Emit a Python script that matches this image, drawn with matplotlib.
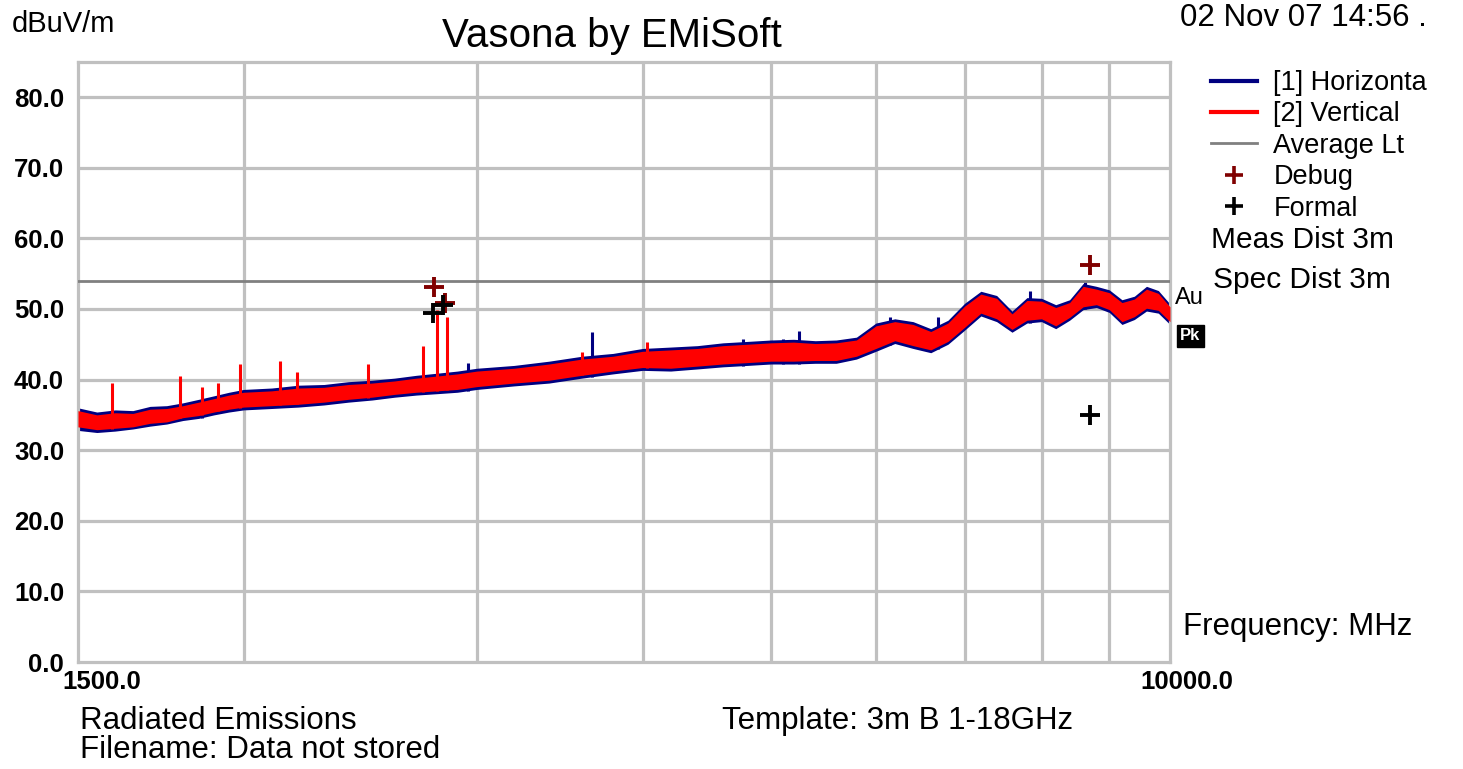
import numpy as np
import matplotlib.pyplot as plt
from matplotlib.lines import Line2D

plt.rcParams['font.family'] = ['Liberation Sans', 'DejaVu Sans']

# frequency grid (MHz) and trace envelopes (dBuV/m)
freq = [1500, 1550, 1600, 1650, 1700, 1750, 1800, 1850, 1900, 1950,
        2000, 2100, 2200, 2300, 2400, 2500, 2600, 2700, 2800, 2900,
        3000, 3200, 3400, 3600, 3800, 4000, 4200, 4400, 4600, 4800,
        5000, 5200, 5400, 5600, 5800, 6000, 6200, 6400, 6600, 6800,
        7000, 7200, 7400, 7600, 7800, 8000, 8200, 8400, 8600, 8800,
        9000, 9200, 9400, 9600, 9800, 10000]

vert_lo = [33.3, 32.9, 33.1, 33.3, 33.8, 34.0, 34.6, 34.9, 35.4, 35.8,
           36.1, 36.3, 36.5, 36.8, 37.2, 37.5, 37.9, 38.2, 38.4, 38.6,
           39.0, 39.5, 39.9, 40.6, 41.2, 41.7, 41.6, 41.9, 42.2, 42.4,
           42.6, 42.6, 42.7, 42.7, 43.3, 44.4, 45.5, 44.8, 44.2, 45.4,
           47.4, 49.4, 48.6, 47.1, 48.4, 48.6, 47.6, 48.8, 50.3, 50.6,
           49.9, 48.2, 48.9, 50.1, 49.8, 48.2]
vert_hi = [35.6, 35.0, 35.3, 35.2, 35.8, 35.9, 36.3, 36.8, 37.3, 37.8,
           38.2, 38.4, 38.8, 38.9, 39.3, 39.5, 39.8, 40.2, 40.5, 40.8,
           41.2, 41.6, 42.2, 42.9, 43.3, 44.0, 44.2, 44.4, 44.8, 45.0,
           45.2, 45.3, 45.1, 45.2, 45.6, 47.6, 48.2, 47.8, 46.8, 48.0,
           50.4, 52.1, 51.5, 49.3, 51.2, 51.1, 50.2, 50.9, 53.2, 52.8,
           52.3, 50.9, 51.4, 52.8, 52.2, 50.3]

horiz_lo = [32.8, 32.5, 32.7, 33.0, 33.4, 33.7, 34.2, 34.5, 35.0, 35.4,
            35.7, 35.9, 36.1, 36.4, 36.8, 37.1, 37.5, 37.8, 38.0, 38.2,
            38.6, 39.1, 39.5, 40.2, 40.8, 41.3, 41.2, 41.5, 41.8, 42.0,
            42.2, 42.2, 42.3, 42.3, 42.9, 44.0, 45.1, 44.4, 43.8, 45.0,
            47.0, 49.0, 48.2, 46.7, 48.0, 48.2, 47.2, 48.4, 49.9, 50.2,
            49.5, 47.8, 48.5, 49.7, 49.4, 47.8]
horiz_hi = [36.0, 35.4, 35.7, 35.6, 36.2, 36.3, 36.7, 37.2, 37.7, 38.2,
            38.6, 38.8, 39.2, 39.3, 39.7, 39.9, 40.2, 40.6, 40.9, 41.2,
            41.6, 42.0, 42.6, 43.3, 43.7, 44.4, 44.6, 44.8, 45.2, 45.4,
            45.6, 45.7, 45.5, 45.6, 46.0, 48.0, 48.6, 48.2, 47.2, 48.4,
            50.8, 52.5, 51.9, 49.7, 51.6, 51.5, 50.6, 51.3, 53.6, 53.2,
            52.7, 51.3, 51.8, 53.2, 52.6, 50.7]

# narrow spikes above the noise floor
vert_spike_f = [1591, 1791, 1861, 1913, 1988, 2131, 2195, 2482, 2731, 2799,
                2848, 3600, 4032]
vert_spike_top = [39.5, 40.5, 39.0, 39.5, 42.2, 42.6, 41.1, 42.2, 44.8, 49.9,
                  48.9, 43.9, 45.3]
horiz_spike_f = [1861, 2953, 3665, 4763, 5106, 5250, 6151, 6684, 7841, 8629]
horiz_spike_top = [38.2, 42.3, 46.7, 45.8, 45.8, 46.9, 48.9, 48.9, 52.6, 53.8]

avg_limit = 54.0

debug_f = [2784, 2837, 8700]
debug_db = [53.1, 50.8, 56.2]
formal_f = [2779, 2828, 8700]
formal_db = [49.4, 50.6, 35.0]

yticks = [0, 10, 20, 30, 40, 50, 60, 70, 80]
xgrid = [2000, 3000, 4000, 5000, 6000, 7000, 8000, 9000]

NAVY = '#000080'
RED = '#ff0000'
GRID = '#c0c0c0'

fig = plt.figure(figsize=(14.63, 7.69), dpi=100)
ax = fig.add_axes([0.0533, 0.1391, 0.7464, 0.7806])
ax.set_xscale('log')
ax.set_xlim(1500, 10000)
ax.set_ylim(0, 85)

for g in xgrid:
    ax.axvline(g, color=GRID, lw=2.3, zorder=0)
for g in yticks[1:]:
    ax.axhline(g, color=GRID, lw=2.3, zorder=0)
for s in ax.spines.values():
    s.set_color(GRID)
    s.set_linewidth(2.3)

ax.fill_between(freq, horiz_lo, horiz_hi, color=NAVY, lw=0, zorder=2)
ax.vlines(horiz_spike_f, np.interp(horiz_spike_f, freq, horiz_lo), horiz_spike_top,
          color=NAVY, lw=2.2, zorder=2)
ax.fill_between(freq, vert_lo, vert_hi, color=RED, lw=0, zorder=3)
ax.vlines(vert_spike_f, np.interp(vert_spike_f, freq, vert_lo), vert_spike_top,
          color=RED, lw=2.2, zorder=3)

ax.axhline(avg_limit, color='#808080', lw=2.0, zorder=4)

ax.plot(debug_f, debug_db, '+', color='#800000', ms=14, mew=2.8, zorder=5)
ax.plot(formal_f, formal_db, '+', color='black', ms=14, mew=2.8, zorder=5)

ax.set_xticks([])
ax.set_xticks([], minor=True)
ax.set_yticks(yticks)
ax.set_yticklabels([f'{v:.1f}' for v in yticks], fontsize=18.5, fontweight='bold')
ax.tick_params(axis='y', length=0, pad=10)

ax.annotate('1500.0', xy=(1500, 0), xycoords=('data', 'axes fraction'),
            xytext=(-16, -8), textcoords='offset pixels',
            ha='left', va='top', fontsize=18.5, fontweight='bold')
ax.annotate('10000.0', xy=(10000, 0), xycoords=('data', 'axes fraction'),
            xytext=(-30, -8), textcoords='offset pixels',
            ha='left', va='top', fontsize=18.5, fontweight='bold')

# legend
handles = [Line2D([], [], color=NAVY, lw=3),
           Line2D([], [], color=RED, lw=3),
           Line2D([], [], color='#808080', lw=2),
           Line2D([], [], color='#800000', marker='+', ls='none', ms=13, mew=2.6),
           Line2D([], [], color='black', marker='+', ls='none', ms=13, mew=2.6)]
labels = ['[1] Horizonta', '[2] Vertical', 'Average Lt', 'Debug', 'Formal']
fig.legend(handles, labels, loc='upper left', bbox_to_anchor=(1211 / 1463, 1 - 70 / 769),
           frameon=False, fontsize=19.5, handlelength=1.7, handletextpad=0.6,
           labelspacing=0.2, borderaxespad=0, borderpad=0)

fig.text(12 / 1463, 1 - 24 / 769, 'dBuV/m', fontsize=21, va='center', ha='left')
fig.text(612 / 1463, 1 - 36 / 769, 'Vasona by EMiSoft', fontsize=29, va='center', ha='center')
fig.text(1180 / 1463, 1 - 18 / 769, '02 Nov 07 14:56 .', fontsize=22.5, va='center', ha='left')
fig.text(1211 / 1463, 1 - 240 / 769, 'Meas Dist 3m', fontsize=21.5, va='center', ha='left')
fig.text(1213 / 1463, 1 - 280 / 769, 'Spec Dist 3m', fontsize=21.5, va='center', ha='left')
fig.text(1175 / 1463, 1 - 298 / 769, 'Au', fontsize=17, va='center', ha='left')
fig.text(1180 / 1463, 1 - 336 / 769, 'Pk', fontsize=12, va='center', ha='left', color='white',
         fontweight='bold', bbox=dict(facecolor='black', edgecolor='black', pad=2.5))
fig.text(1183 / 1463, 1 - 627 / 769, 'Frequency: MHz', fontsize=22.5, va='center', ha='left')
fig.text(80 / 1463, 1 - 721 / 769, 'Radiated Emissions', fontsize=22.5, va='center', ha='left')
fig.text(80 / 1463, 1 - 750 / 769, 'Filename: Data not stored', fontsize=22.5, va='center', ha='left')
fig.text(722 / 1463, 1 - 721 / 769, 'Template: 3m B 1-18GHz', fontsize=22.5, va='center', ha='left')

fig.savefig('out.png', dpi=100)
